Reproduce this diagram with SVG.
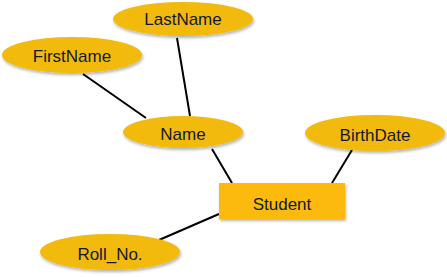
<svg xmlns="http://www.w3.org/2000/svg" width="447" height="277" viewBox="0 0 447 277">
<style>
.attr{fill:#F2BA0C;filter:url(#sh)}
.ent{fill:#FBBA0A;filter:url(#sh)}
.lbl{font-family:"Liberation Sans",Arial,sans-serif;font-size:17px;fill:#141834;text-anchor:middle}
.conn line{stroke:#000;stroke-width:2}
</style>
<defs>
<filter id="sh" x="-20%" y="-30%" width="140%" height="170%">
<feDropShadow dx="1" dy="2" stdDeviation="1.5" flood-color="#000" flood-opacity="0.3"/>
</filter>
</defs>
<rect width="447" height="277" fill="#fff"/>
<g class="conn">
<line x1="83" y1="74" x2="146" y2="118"/>
<line x1="177" y1="38" x2="190" y2="116"/>
<line x1="212" y1="149" x2="232" y2="183"/>
<line x1="352" y1="150" x2="332" y2="183"/>
<line x1="159" y1="240" x2="219" y2="214"/>
</g>
<g id="LastName"><ellipse class="attr" cx="183" cy="19" rx="70" ry="17"/><text class="lbl" x="183" y="25">LastName</text></g>
<g id="FirstName"><ellipse class="attr" cx="72" cy="55" rx="70" ry="18"/><text class="lbl" x="72" y="62">FirstName</text></g>
<g id="Name"><ellipse class="attr" cx="183" cy="132" rx="60" ry="16"/><text class="lbl" x="183" y="140">Name</text></g>
<g id="BirthDate"><ellipse class="attr" cx="375" cy="133" rx="70" ry="18"/><text class="lbl" x="375" y="141">BirthDate</text></g>
<g id="Student"><rect class="ent" x="219" y="183" width="126" height="36"/><text class="lbl" x="282" y="210">Student</text></g>
<g id="Roll_No"><ellipse class="attr" cx="110" cy="252" rx="70" ry="18"/><text class="lbl" x="110" y="260">Roll_No.</text></g>
</svg>
